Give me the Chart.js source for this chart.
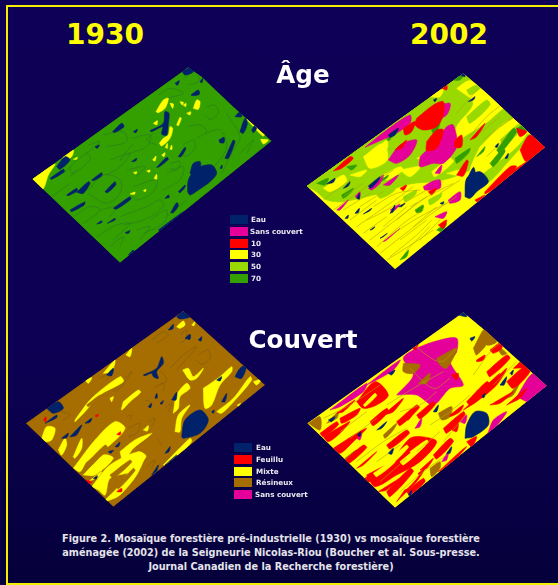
<!DOCTYPE html>
<html>
<head>
<meta charset="utf-8">
<script src="https://cdn.jsdelivr.net/npm/chart.js@4/dist/chart.umd.js"></script>
<style>
  html, body { margin: 0; padding: 0; }
  body { width: 558px; height: 585px; overflow: hidden; position: relative;
         background: linear-gradient(#0e0056, #0d0054 60%, #05003a); font-family: "DejaVu Sans", sans-serif; }
  #frame { position: absolute; left: 6px; top: 5px; width: 560px; height: 576px; border: 2px solid #f2f000; }
  canvas { position: absolute; }
  .t { position: absolute; font-weight: bold; white-space: nowrap; transform: translateX(-50%); }
  .year { color: #ffff00; font-size: 28px; top: 18px; }
  .head { color: #fff; font-size: 24.6px; }
  #caption { position: absolute; left: 0; width: 542px; top: 532px; color: #e4e4ea; text-align: center;
             font-weight: bold; font-size: 9.7px; line-height: 14px; }
  .sw { position: absolute; width: 18px; height: 9px; }
  .lb { position: absolute; color: #e8e8ee; font-weight: bold; font-size: 7.2px; white-space: nowrap; }
</style>
</head>
<body>
<div id="frame"></div>
<canvas id="age1930" width="270" height="210" style="left:20px;top:60px"></canvas>
<canvas id="age2002" width="258" height="215" style="left:300px;top:60px"></canvas>
<canvas id="cov1930" width="270" height="210" style="left:20px;top:305px"></canvas>
<canvas id="cov2002" width="258" height="210" style="left:300px;top:305px"></canvas>
<div class="t year" style="left:105px">1930</div>
<div class="t year" style="left:449px">2002</div>
<div class="t head" style="left:303px;top:60px">Âge</div>
<div class="t head" style="left:303px;top:325px">Couvert</div>
<div id="caption">Figure 2. Mosaïque forestière pré-industrielle (1930) vs mosaïque forestière<br>aménagée (2002) de la Seigneurie Nicolas-Riou (Boucher et al. Sous-presse.<br>Journal Canadien de la Recherche forestière)</div>
<script>
// legend text
const ageLabels = ['Eau', 'Sans couvert', '10', '30', '50', '70'];
const covLabels = ['Eau', 'Feuillu', 'Mixte', 'Résineux', 'Sans couvert'];

const WATER = '#00226b', BARE = '#e6009a', RED = '#ff0000', YEL = '#ffff00',
      LIME = '#99d900', GREEN = '#33a000', BROWN = '#a66e00';
const ageColors = [WATER, BARE, RED, YEL, LIME, GREEN];
const covColors = [WATER, RED, YEL, BROWN, BARE];

// ---- Age 1930
const a30Outline = [37,357, 505,22, 545,50, 640,140, 755,243, 300,608];
const a30Yellow = [
  [37,357, 105,312, 85,345, 68,387], [128,287, 160,270, 155,290, 132,300], [680,178, 690,178, 735,222, 728,228],
  [722,238, 745,240, 730,252], [408,155, 430,120, 445,115, 435,145, 415,158], [520,145, 530,120, 540,125, 535,148],
  [450,130, 460,132, 458,145], [480,125, 490,127, 487,135], [490,135, 498,130, 497,140], [500,160, 512,155, 510,165],
  [470,195, 480,172, 484,175, 475,197], [418,250, 430,235, 445,225, 450,200, 458,205, 450,235, 425,258],
  [400,190, 412,182, 410,195], [398,300, 408,288, 405,303], [425,285, 435,278, 432,290], [380,333, 390,330, 388,337],
  [340,338, 350,335, 348,342], [402,355, 410,343, 410,358], [330,402, 345,396, 343,403], [436,262, 442,250, 442,265],
  [450,268, 455,255, 456,268], [160,298, 172,292, 170,298], [370,392, 378,388, 376,395]
];
const a30Water = [
  [503,395, 505,360, 530,325, 575,315, 590,340, 570,365, 535,390, 510,405], [510,340, 520,310, 540,305, 540,325, 520,345],
  [170,397, 205,365, 210,370, 190,400], [215,360, 245,338, 245,348, 220,362], [140,405, 170,385, 172,392, 145,407],
  [255,395, 285,365, 287,375, 262,398], [280,445, 330,410, 332,418, 290,447], [278,215, 305,190, 312,200, 285,217],
  [90,355, 130,328, 133,335, 95,358], [110,320, 135,290, 150,300, 120,328], [415,510, 490,455, 490,462, 430,515],
  [452,458, 470,428, 475,437, 460,458], [475,395, 495,375, 495,382, 480,398], [475,290, 495,262, 497,268, 483,290],
  [597,240, 612,232, 612,248, 600,248], [660,215, 675,175, 682,190, 670,220], [645,170, 660,155, 665,170],
  [487,35, 515,22, 520,35, 495,45], [513,105, 535,90, 538,103, 520,107], [615,295, 640,240, 645,245, 625,295],
  [390,212, 430,190, 435,155, 447,160, 445,190, 440,225, 425,222, 428,200, 395,215], [150,450, 190,428, 192,435, 155,455],
  [230,492, 245,482, 245,488], [262,490, 285,475, 285,480], [325,585, 340,570, 342,578], [435,415, 445,405, 448,412],
  [225,260, 238,255, 232,265], [540,65, 548,55, 546,68], [465,70, 478,62, 472,76], [640,345, 670,320, 650,340],
  [410,322, 440,292, 445,298, 418,320], [335,305, 350,295, 348,302], [600,325, 606,315, 606,325], [315,518, 330,512, 325,520],
  [180,440, 195,425, 192,435], [340,215, 352,208, 348,218], [695,210, 705,195, 710,205, 700,218]
];
const a30Lines = [
  [205,390, 250,345, 300,360, 300,400, 260,430, 205,400], [560,140, 585,135, 595,160, 570,178, 555,165],
  [505,200, 540,195, 560,215, 530,235], [490,255, 520,240, 525,265, 495,290, 485,275], [450,310, 480,305, 470,330, 450,325],
  [415,105, 450,85, 490,100, 440,115], [490,55, 530,35, 535,65, 505,75], [335,235, 390,225, 380,260, 330,280, 300,300, 340,250],
  [250,225, 310,215, 320,245, 260,260], [130,340, 200,280, 210,300, 150,350], [340,380, 410,360, 400,395, 350,420, 330,400],
  [300,470, 380,440, 420,420, 430,440, 370,480, 310,495], [555,220, 600,210, 620,260, 590,310, 555,340, 540,300],
  [620,160, 660,230, 640,270, 605,340], [160,470, 210,440, 240,450, 190,490], [390,480, 440,450, 430,490, 370,520],
  [230,530, 290,495, 330,490, 280,540], [440,340, 490,320, 480,360, 430,390], [500,420, 440,470], [95,410, 150,370],
  [200,280, 240,245, 205,255], [150,320, 155,340, 170,330], [270,300, 330,280, 300,320, 260,345], [320,330, 375,320, 350,350],
  [400,220, 380,240, 410,255], [240,450, 290,440, 270,470], [350,510, 390,500, 360,540], [270,560, 310,530, 300,560], [660,280, 700,240, 680,280]
];

// ---- Age 2002
const a02Outline = [20,378, 490,40, 560,100, 640,175, 735,262, 285,628];
const a02Lime = [
  [20,378, 260,205, 490,42, 640,178, 560,300, 490,340, 420,362, 330,372, 240,400, 130,425, 80,420, 50,395],
  [520,360, 590,310, 660,230, 690,225, 620,310, 560,370], [130,400, 180,370, 190,385, 140,420], [230,400, 290,375, 280,395, 240,415]
];
const a02Yellow = [
  [190,290, 250,250, 262,300, 210,325], [470,85, 510,62, 560,100, 610,150, 540,200, 480,240, 440,300, 470,200, 520,130],
  [540,260, 630,180, 680,215, 640,270, 560,330, 520,370, 510,330], [70,385, 130,345, 140,365, 90,395], [390,110, 430,85, 420,110],
  [300,330, 360,320, 330,350], [440,340, 480,330, 470,345], [150,345, 200,330, 180,350], [240,260, 260,240, 262,265],
  [350,295, 380,280, 375,300], [620,195, 640,175, 660,195, 640,220], [395,335, 450,295, 460,305, 405,350], [250,345, 300,320, 310,330, 260,360]
];
const a02LimeStreak = [
  [500,170, 560,120, 570,135, 510,190], [560,190, 620,140, 630,150, 575,205], [600,240, 660,190, 670,200, 615,255], [500,90, 530,75, 540,85, 510,105],
  [310,410, 350,390, 345,405, 315,425], [385,420, 425,400, 420,415, 390,435]
];
const a02Green = [
  [50,370, 85,355, 75,375], [465,295, 510,265, 505,280, 470,310], [570,310, 610,265, 615,275, 580,320], [345,450, 370,435, 365,455, 350,458],
  [300,600, 325,570, 320,590], [125,405, 160,385, 155,395, 130,415], [420,150, 435,130, 430,160], [260,240, 275,220, 270,240],
  [395,210, 420,185, 415,205, 400,220], [450,60, 490,45, 480,60], [590,270, 640,205, 650,215, 600,280], [410,510, 440,490, 425,515],
  [650,205, 690,190, 695,205, 655,220], [230,370, 265,345, 260,355], [140,320, 170,315, 155,330], [530,290, 555,260, 550,275]
];
const a02Bare = [
  [195,262, 260,210, 330,165, 330,190, 280,225, 245,240], [360,290, 420,230, 440,200, 460,195, 470,260, 430,310, 400,310, 360,320],
  [265,300, 300,255, 350,240, 330,285, 290,310], [250,375, 295,345, 270,375], [370,380, 395,365, 420,360, 420,385, 375,390],
  [445,420, 480,395, 480,420, 450,430], [410,140, 450,130, 440,165, 400,180], [405,340, 425,315, 420,340], [205,385, 250,345, 240,370, 215,390],
  [110,450, 145,420, 120,450], [250,545, 300,505, 260,540], [165,410, 180,395, 178,415], [405,470, 440,455, 430,475], [270,450, 300,432, 285,450]
];
const a02Red = [
  [350,175, 400,135, 430,125, 430,165, 410,200, 370,210, 345,195], [380,245, 410,210, 430,210, 410,265, 380,272],
  [100,333, 150,290, 160,295, 125,325], [425,85, 440,75, 440,90], [465,240, 485,225, 485,260, 465,262], [470,345, 500,300, 505,305, 490,348],
  [660,270, 690,225, 735,262, 680,305], [555,395, 630,320, 650,320, 600,375, 555,402], [525,420, 555,405, 540,420, 530,425],
  [415,495, 440,480, 430,505], [310,205, 345,185, 335,215, 315,225], [285,270, 320,240, 305,265], [510,240, 555,190, 530,230],
  [650,205, 680,215, 660,230], [385,395, 410,385, 395,405], [300,385, 320,375, 310,392], [620,345, 680,305, 640,340]
];
const a02Water = [
  [495,410, 500,355, 540,335, 565,365, 530,395, 510,415], [500,360, 520,322, 525,335, 510,365], [80,372, 105,355, 100,367],
  [130,385, 150,365, 145,378], [205,378, 240,350, 235,362, 212,385], [190,462, 215,445, 210,452], [135,475, 145,465, 143,475],
  [165,460, 178,445, 175,458], [505,125, 525,110, 520,120], [265,225, 295,205, 285,225, 270,232], [480,45, 492,38, 495,50],
  [420,430, 432,425, 428,433], [240,535, 262,520, 250,530], [210,510, 225,500, 218,508], [615,295, 625,280, 622,295], [585,260, 595,250, 592,262],
  [270,460, 285,435, 280,455], [295,440, 315,430, 305,440], [170,415, 178,400, 178,418], [400,120, 410,115, 405,125]
];
const a02Lines = [
  [240,580, 330,510, 410,450, 470,410], [210,540, 300,470, 380,410], [320,570, 390,500], [100,450, 200,380, 280,330],
  [170,500, 270,430, 340,380], [280,520, 360,470, 440,430], [150,480, 230,420], [260,600, 340,550, 400,510],
  [220,440, 290,400, 360,390], [330,440, 400,400, 460,370], [500,240, 560,170, 610,130], [540,220, 600,170], [550,240, 640,170],
  [250,500, 320,440], [360,540, 420,480], [190,520, 260,470], [290,480, 350,430], [130,410, 190,370], [70,420, 150,360], [470,160, 530,90],
  [230,560, 310,490, 370,450], [270,590, 350,525, 395,480], [200,480, 260,450, 320,410], [130,450, 210,400], [180,440, 250,395], [300,540, 380,480],
  [340,500, 410,440], [310,430, 380,390], [420,400, 480,360], [600,200, 660,160], [560,290, 620,230]
];

// ---- Cover 1930
const c30Outline = [18,355, 490,18, 735,240, 280,605];
const c30Yellow = [
  [160,490, 225,405, 285,350, 315,370, 270,420, 200,470, 180,500], [215,545, 270,480, 355,440, 378,455, 330,500, 270,520, 255,570, 235,555],
  [165,345, 215,280, 300,215, 310,230, 240,270, 195,320, 165,350], [310,290, 355,255, 362,262, 330,290, 305,315],
  [488,195, 505,190, 520,215, 550,190, 530,220, 510,225], [460,325, 470,270, 500,235, 510,250, 480,275, 475,310],
  [550,250, 600,215, 635,185, 635,200, 600,240, 575,300, 555,310], [590,320, 640,280, 690,215, 695,225, 650,280, 605,325],
  [465,380, 475,330, 510,300, 485,340, 480,380], [65,400, 80,365, 105,370, 95,405, 75,410], [115,435, 135,400, 140,420, 125,450],
  [160,455, 185,400, 185,430, 165,460], [300,440, 345,405, 395,385, 385,395, 340,430, 310,470], [430,480, 510,400, 515,410, 450,480],
  [250,590, 300,540, 340,480, 375,450, 350,510, 300,570, 270,585], [190,510, 250,450, 280,460, 225,510], [470,65, 490,48, 495,60, 480,70],
  [318,150, 335,130, 330,155], [250,205, 285,165, 275,200], [195,225, 215,218, 205,235], [515,60, 525,50, 522,62],
  [700,230, 725,222, 710,240], [370,375, 385,362, 382,378], [270,280, 280,275, 275,290], [652,300, 662,295, 655,305], [205,530, 245,500, 235,515]
];
// narrow brown gaps that split the large mixed patches
const c30Gaps = [[195,480, 255,420, 262,428, 205,490], [270,510, 330,465, 335,472, 280,520], [200,300, 240,270, 245,275, 205,305], [290,545, 340,490, 345,497, 295,552]];
const c30Water = [
  [485,395, 495,345, 540,315, 565,345, 540,385, 490,400], [370,210, 410,190, 425,155, 430,175, 410,200, 415,220, 400,215, 395,205, 375,212],
  [80,310, 115,290, 130,310, 100,325], [150,395, 185,360, 170,390, 155,395], [435,480, 470,450, 450,475], [645,215, 660,190, 680,180, 665,220],
  [470,35, 490,20, 510,35, 480,42], [495,100, 510,88, 510,103], [445,75, 460,58, 458,72], [455,285, 470,262, 468,285], [195,355, 215,340, 210,352],
  [75,355, 110,330, 110,338], [125,400, 145,385, 140,398], [435,445, 450,425, 447,440], [395,510, 415,480, 410,498], [260,210, 280,190, 275,212],
  [590,225, 605,215, 600,228], [605,290, 620,265, 615,290], [575,320, 583,315, 580,325], [265,440, 280,436, 272,445], [285,425, 300,412, 295,425],
  [220,520, 232,512, 228,522], [385,305, 395,295, 392,308], [420,295, 430,287, 425,298], [405,280, 410,265, 412,278], [535,105, 545,95, 543,108]
];
const c30Red = [[290,388, 302,380, 300,390], [290,560, 305,550, 305,560], [195,525, 215,530, 205,537], [225,333, 235,328, 232,335], [70,345, 78,335, 78,350]];
const c30Lines = [
  [535,150, 565,135, 570,160, 545,178, 530,165], [450,190, 490,150, 530,125, 510,150, 470,195], [395,105, 430,80, 445,90, 410,115],
  [480,90, 500,75, 495,105, 480,115], [400,250, 430,235, 430,260], [325,370, 360,355, 350,385, 325,395], [385,350, 405,340, 395,365],
  [240,220, 270,205, 260,225], [280,260, 335,200, 320,225, 290,260], [435,310, 455,295, 445,320], [380,485, 405,465, 395,490], [410,400, 425,420],
  [420,195, 440,225, 420,240], [125,320, 150,330, 130,345], [320,335, 335,330, 330,345], [375,285, 390,290, 385,310]
];

// ---- Cover 2002
const c02Outline = [22,355, 490,22, 560,80, 740,242, 285,608];
const c02Bare = [
  [290,270, 340,210, 310,160, 350,130, 420,105, 470,100, 470,140, 450,170, 490,240, 450,250, 400,300, 350,270], [90,315, 200,235, 190,260, 120,305],
  [200,240, 300,165, 280,195, 230,225], [650,275, 700,205, 740,242, 690,290], [520,420, 560,390, 580,345, 620,320, 600,350, 555,395],
  [345,370, 365,340, 360,365], [425,470, 445,440, 440,465], [170,400, 185,385, 180,405], [480,350, 500,330, 495,355]
];
const c02Brown = [
  [520,130, 555,70, 570,100, 530,150], [310,175, 360,180, 340,205, 310,200], [410,160, 470,130, 440,190, 420,180], [415,325, 455,305, 450,335, 425,345],
  [390,490, 420,470, 420,490, 395,515], [135,460, 170,435, 165,455, 145,475], [25,355, 60,335, 60,375], [80,355, 115,320, 110,340],
  [250,390, 290,355, 280,375, 255,400], [355,235, 390,205, 380,235], [590,120, 620,145, 605,150], [620,280, 660,230, 640,270], [560,80, 590,110, 560,120]
];
const c02Red = [
  [170,290, 225,230, 265,270, 230,300, 190,310], [70,395, 130,360, 150,350, 120,385, 85,410], [200,510, 270,470, 330,400, 365,395, 410,410, 360,470, 290,510, 225,545],
  [290,590, 340,520, 375,490, 350,530, 310,570], [450,330, 490,300, 480,320, 450,335], [530,165, 555,150, 550,165, 530,170], [570,135, 605,110, 605,130, 580,145],
  [490,315, 560,250, 620,190, 590,240, 530,290], [620,230, 680,180, 690,200, 640,250], [100,430, 170,385, 200,370, 160,410, 120,445],
  [330,120, 355,115, 345,135], [455,375, 475,355, 470,380], [540,260, 600,205, 560,260], [250,330, 310,280, 280,320], [170,490, 230,440, 190,480],
  [415,500, 480,440, 500,425, 450,480], [360,495, 400,460, 380,490], [500,410, 530,395, 515,425], [640,190, 670,165, 680,185], [110,325, 165,285, 130,320],
  [570,300, 640,260, 600,295], [310,340, 340,320, 325,345], [235,560, 300,520, 260,555], [455,210, 475,205, 470,225],
  [130,470, 190,420, 200,428, 140,480], [260,420, 320,375, 328,385, 270,432], [290,350, 350,300, 358,308, 300,362], [350,330, 400,290, 405,300, 360,342],
  [120,340, 180,310, 170,330, 125,355], [430,370, 490,320, 495,330, 440,385], [470,480, 530,420, 520,440, 480,490], [260,560, 330,490, 340,500, 270,575],
  [180,530, 240,490, 250,500, 190,540], [320,560, 370,520, 375,530, 330,570], [500,290, 560,230, 570,240, 510,300], [560,200, 620,150, 630,160, 570,215],
  [620,300, 680,250, 660,280], [60,385, 110,350, 115,360, 70,395], [400,450, 450,400, 460,410, 410,462], [210,350, 260,310, 265,320, 220,362]
];
// yellow slits through the red in the lower half
const c02Slits = [
  [250,480, 320,420, 325,428, 260,490], [300,470, 370,415, 375,422, 310,480], [220,505, 280,465, 285,472, 230,515], [330,440, 380,405, 385,412, 340,450],
  [190,300, 225,265, 230,272, 195,305], [310,545, 350,505, 355,512, 318,552]
];
const c02Water = [
  [495,400, 500,360, 525,320, 560,325, 565,360, 520,395], [475,30, 495,22, 500,35], [265,205, 285,195, 275,210], [85,345, 105,335, 95,350],
  [172,390, 182,380, 180,395], [400,320, 415,300, 410,320], [600,240, 620,215, 612,240], [545,275, 555,265, 552,278], [630,205, 640,195, 636,210],
  [265,445, 280,430, 275,448], [230,375, 260,350, 245,370], [510,100, 525,95, 515,108], [440,445, 455,425, 450,445], [325,570, 335,555, 332,572]
];
const c02Lines = [
  [300,560, 370,500, 440,450], [170,470, 250,410, 320,370], [70,340, 150,300, 240,240], [260,300, 340,250, 430,200], [340,120, 420,170, 470,130],
  [330,190, 400,250, 450,220], [390,360, 450,320, 510,270], [520,210, 580,130, 630,100], [230,470, 300,420], [120,380, 200,320], [350,440, 420,380],
  [150,400, 230,340], [580,240, 650,170], [240,530, 320,460], [300,320, 360,300, 410,260], [430,410, 490,340]
];

function pts(flat) {
  const out = [];
  for (let i = 0; i < flat.length; i += 2) out.push({ x: flat[i], y: flat[i + 1] });
  return out;
}
function shape(flat, color, tension) {
  const p = pts(flat);
  p.push(p[0]);
  return { data: p, showLine: true, fill: 'shape', backgroundColor: color, borderColor: color,
           borderWidth: 0.6, tension: tension, pointRadius: 0 };
}
function blobs(list, color) { return list.map(f => shape(f, color, 0.3)); }
function lines(list, color) {
  return list.map(f => ({ data: pts(f), showLine: true, fill: false, borderColor: color,
                          borderWidth: 0.6, tension: 0.35, pointRadius: 0 }));
}

// keeps the rounded patches inside the map's edge
function outlineClip(outline) {
  return {
    id: 'outlineClip',
    beforeDatasetsDraw(chart) {
      const c = chart.ctx;
      c.save();
      c.beginPath();
      pts(outline).forEach(p => c.lineTo(chart.scales.x.getPixelForValue(p.x), chart.scales.y.getPixelForValue(p.y)));
      c.closePath();
      c.clip();
    },
    afterDatasetsDraw(chart) { chart.ctx.restore(); }
  };
}

function drawMap(id, xMax, yMax, outline, base, datasets) {
  new Chart(document.getElementById(id), {
    type: 'scatter',
    // chart.js paints the first dataset last, so flip to keep the base underneath
    data: { datasets: [shape(outline, base, 0), ...datasets].reverse() },
    plugins: [outlineClip(outline)],
    options: {
      responsive: false, animation: false, events: [],
      layout: { padding: 0 },
      plugins: { legend: { display: false }, tooltip: { enabled: false } },
      scales: {
        x: { type: 'linear', min: 0, max: xMax, display: false },
        y: { type: 'linear', min: 0, max: yMax, reverse: true, display: false }
      }
    }
  });
}

drawMap('age1930', 810, 630, a30Outline, GREEN, [
  ...lines(a30Lines, '#2c7a24'),
  ...blobs(a30Yellow, YEL),
  ...blobs(a30Water, WATER)
]);
drawMap('age2002', 774, 645, a02Outline, YEL, [
  ...blobs(a02Lime, LIME),
  ...blobs(a02Yellow, YEL),
  ...blobs(a02LimeStreak, LIME),
  ...blobs(a02Green, GREEN),
  ...blobs(a02Bare, BARE),
  ...blobs(a02Red, RED),
  ...lines(a02Lines, '#b0a800'),
  ...blobs(a02Water, WATER)
]);
drawMap('cov1930', 810, 630, c30Outline, BROWN, [
  ...lines(c30Lines, '#7d5a10'),
  ...blobs(c30Yellow, YEL),
  ...blobs(c30Gaps, BROWN),
  ...blobs(c30Red, RED),
  ...blobs(c30Water, WATER)
]);
drawMap('cov2002', 774, 630, c02Outline, YEL, [
  ...blobs(c02Bare, BARE),
  ...blobs(c02Brown, BROWN),
  ...blobs(c02Red, RED),
  ...blobs(c02Slits, YEL),
  ...lines(c02Lines, '#b0a800'),
  ...blobs(c02Water, WATER)
]);

// the two legends
function legend(labels, colors, x, top, step, textX) {
  labels.forEach((name, i) => {
    const s = document.createElement('div');
    s.className = 'sw';
    s.style.cssText = `left:${x}px;top:${top + i * step}px;background:${colors[i]}`;
    document.body.appendChild(s);
    const l = document.createElement('div');
    l.className = 'lb';
    l.textContent = name;
    l.style.cssText = `left:${name === 'Sans couvert' ? textX - 1 : textX}px;top:${top + i * step}px`;
    document.body.appendChild(l);
  });
}
legend(ageLabels, ageColors, 230, 215, 11.8, 251);
legend(covLabels, covColors, 234, 443, 11.8, 256);
</script>
</body>
</html>
